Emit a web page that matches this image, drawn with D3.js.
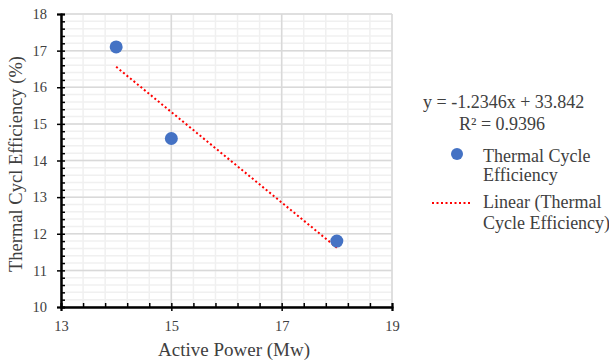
<!DOCTYPE html>
<html>
<head>
<meta charset="utf-8">
<script src="https://cdn.jsdelivr.net/npm/d3@7"></script>
<style>
  body { margin: 0; background: #fff; }
  svg { display: block; font-family: 'Liberation Serif', 'Times New Roman', serif; }
</style>
</head>
<body>
<div id="chart"></div>
<script>
// Thermal cycle efficiency vs active power, with linear trend

const activePower = [14, 15, 18]
const efficiency = [17.1, 14.6, 11.8]
const xTicks = [13, 15, 17, 19]
const yTicks = [10, 11, 12, 13, 14, 15, 16, 17, 18]
const seriesName = 'Thermal Cycle Efficiency'

const width = 609
const height = 361
const plot = { left: 61, right: 392, top: 14, bottom: 307 }

const svg = d3.select('#chart').append('svg')
  .attr('width', width)
  .attr('height', height)

const x = d3.scaleLinear().domain([13, 19]).range([plot.left, plot.right])
const y = d3.scaleLinear().domain([10, 18]).range([plot.bottom, plot.top])

// least squares fit for the trendline
const mx = d3.mean(activePower)
const my = d3.mean(efficiency)
const sxy = d3.sum(activePower, (v, i) => (v - mx) * (efficiency[i] - my))
const sxx = d3.sum(activePower, v => (v - mx) ** 2)
const syy = d3.sum(efficiency, v => (v - my) ** 2)
const slope = sxy / sxx
const intercept = my - slope * mx
const r2 = (sxy * sxy) / (sxx * syy)

// minor grid
const xMinor = d3.range(13, 19.001, 0.4)
const yMinor = d3.range(10, 18.001, 0.2)

const grid = svg.append('g')
grid.selectAll('.vminor').data(xMinor).enter().append('line')
  .attr('x1', d => x(d)).attr('x2', d => x(d))
  .attr('y1', plot.top).attr('y2', plot.bottom)
  .attr('stroke', '#f0f0f0').attr('stroke-width', 1.5)
grid.selectAll('.hminor').data(yMinor).enter().append('line')
  .attr('x1', plot.left).attr('x2', plot.right)
  .attr('y1', d => y(d)).attr('y2', d => y(d))
  .attr('stroke', '#f0f0f0').attr('stroke-width', 1.5)

// major grid
grid.selectAll('.vmajor').data(xTicks).enter().append('line')
  .attr('x1', d => x(d)).attr('x2', d => x(d))
  .attr('y1', plot.top).attr('y2', plot.bottom)
  .attr('stroke', '#d9d9d9').attr('stroke-width', 1.5)
grid.selectAll('.hmajor').data(yTicks).enter().append('line')
  .attr('x1', plot.left).attr('x2', plot.right)
  .attr('y1', d => y(d)).attr('y2', d => y(d))
  .attr('stroke', '#d9d9d9').attr('stroke-width', 1.5)

// axes
const xAxis = svg.append('g')
  .attr('transform', `translate(0,${plot.bottom})`)
  .call(d3.axisBottom(x).tickValues(xTicks).tickSize(4).tickPadding(10).tickFormat(d3.format('d')))
xAxis.append('g')
  .call(d3.axisBottom(x).tickValues(xMinor).tickSize(-4).tickFormat(''))
xAxis.selectAll('path').attr('stroke', '#000').attr('stroke-width', 2)
xAxis.selectAll('line').attr('stroke', '#000').attr('stroke-width', 1.5)
xAxis.selectAll('text')
  .attr('font-size', '14.5px')
  .attr('font-family', 'Liberation Serif, serif')
  .attr('fill', '#404040')

const yAxis = svg.append('g')
  .attr('transform', `translate(${plot.left},0)`)
  .call(d3.axisLeft(y).tickValues(yTicks).tickSize(4).tickPadding(10).tickFormat(d3.format('d')))
yAxis.append('g')
  .call(d3.axisLeft(y).tickValues(yMinor).tickSize(-4).tickFormat(''))
yAxis.selectAll('path').attr('stroke', '#000').attr('stroke-width', 2)
yAxis.selectAll('line').attr('stroke', '#000').attr('stroke-width', 1.5)
yAxis.selectAll('text')
  .attr('font-size', '14.5px')
  .attr('font-family', 'Liberation Serif, serif')
  .attr('fill', '#404040')

// axis titles
svg.append('text')
  .attr('x', 234)
  .attr('y', 356)
  .attr('text-anchor', 'middle')
  .attr('font-size', '19px')
  .attr('fill', '#404040')
  .text('Active Power (Mw)')

svg.append('text')
  .attr('transform', 'translate(22,164) rotate(-90)')
  .attr('text-anchor', 'middle')
  .attr('font-size', '18.5px')
  .attr('fill', '#404040')
  .text('Thermal Cycl Efficiency (%)')

// trendline
const xMin = d3.min(activePower)
const xMax = d3.max(activePower)
svg.append('line')
  .attr('x1', x(xMin)).attr('y1', y(slope * xMin + intercept))
  .attr('x2', x(xMax)).attr('y2', y(slope * xMax + intercept))
  .attr('stroke', '#ff0000')
  .attr('stroke-width', 2)
  .attr('stroke-dasharray', '2,2.5')

// points
svg.selectAll('.pt')
  .data(activePower.map((v, i) => [v, efficiency[i]]))
  .enter().append('circle')
  .attr('cx', d => x(d[0]))
  .attr('cy', d => y(d[1]))
  .attr('r', 6.5)
  .attr('fill', '#4472c4')

// legend with equation
const legend = svg.append('g').attr('font-size', '18px').attr('fill', '#404040')
legend.append('text').attr('x', 423).attr('y', 108)
  .text(`y = ${slope.toFixed(4)}x + ${intercept.toFixed(3)}`)
legend.append('text').attr('x', 459).attr('y', 130)
  .text(`R² = ${r2.toFixed(4)}`)

legend.append('circle').attr('cx', 457).attr('cy', 154).attr('r', 6).attr('fill', '#4472c4')
legend.append('text').attr('x', 483).attr('y', 162).text('Thermal Cycle')
legend.append('text').attr('x', 483).attr('y', 181).text('Efficiency')

legend.append('line')
  .attr('x1', 432).attr('x2', 472).attr('y1', 203).attr('y2', 203)
  .attr('stroke', '#ff0000').attr('stroke-width', 2).attr('stroke-dasharray', '2,2.5')
legend.append('text').attr('x', 483).attr('y', 208).text('Linear (Thermal')
legend.append('text').attr('x', 483).attr('y', 229).text('Cycle Efficiency)')
</script>
</body>
</html>
